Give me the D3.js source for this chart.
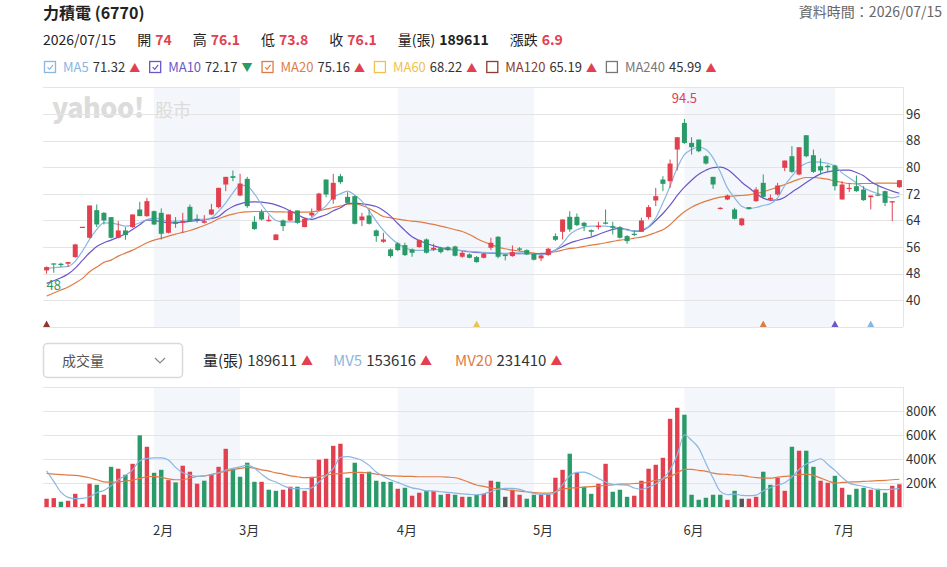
<!DOCTYPE html>
<html>
<head>
<meta charset="utf-8">
<script src="https://cdn.jsdelivr.net/npm/d3@7"></script>
<style>
body { margin: 0; background: #fff; }
text { font-family: "Noto Sans CJK TC", "Noto Sans", sans-serif; }
</style>
</head>
<body>
<svg id="chart" width="947" height="567"></svg>
<script>
// daily OHLC (120 trading days, mid Jan -> 2026/07/15)
var opens = [49.0,51.1,51.0,51.0,53.0,62.1,58.8,67.1,66.3,65.0,
	58.8,61.0,62.0,67.3,65.3,66.8,66.3,60.3,63.6,63.3,
	68.1,64.5,63.3,65.8,68.0,74.8,77.3,71.5,76.5,63.6,
	66.5,63.8,58.1,64.0,64.0,67.0,62.0,65.5,67.0,76.3,
	70.3,77.3,71.1,71.3,64.1,65.5,61.0,57.6,55.3,57.1,
	56.6,55.3,56.0,58.3,55.2,55.7,56.0,56.2,53.1,53.8,
	53.0,52.8,55.8,59.1,53.8,53.3,55.6,55.1,54.0,52.6,
	53.6,59.3,60.6,65.1,65.1,63.3,61.1,62.0,63.4,62.3,
	62.0,59.3,60.0,60.6,65.0,70.0,76.3,75.8,85.3,93.3,
	87.3,88.3,83.3,77.1,67.5,70.3,67.3,62.6,68.0,69.8,
	75.3,70.3,71.8,79.8,83.3,77.8,89.6,83.6,80.3,80.4,
	80.5,70.3,73.7,74.3,73.3,71.0,71.8,72.8,69.4,74.0];
var highs = [50.2,51.1,51.3,51.5,57.0,62.1,68.5,68.8,66.5,65.0,
	63.8,62.0,65.8,69.6,70.8,67.0,67.6,65.8,65.0,66.3,
	68.8,65.8,65.6,69.0,73.8,77.1,79.0,78.0,77.1,65.3,
	67.3,65.5,59.8,64.3,67.3,67.0,64.8,67.6,72.3,76.3,
	78.0,78.0,72.5,71.5,66.3,67.3,61.3,60.3,55.6,57.5,
	57.3,55.6,58.3,58.6,57.0,56.1,56.3,56.4,54.8,54.1,
	53.3,54.3,58.8,59.3,54.0,56.5,56.0,55.3,54.1,53.8,
	55.8,60.1,64.3,66.8,66.1,63.6,61.3,63.6,67.3,63.6,
	62.3,59.6,61.0,64.8,68.6,73.8,77.3,82.3,89.0,94.5,
	89.0,88.3,83.6,77.1,68.0,71.8,67.8,64.8,68.0,74.0,
	77.8,71.8,75.3,82.0,86.3,86.0,89.6,85.3,82.6,80.8,
	80.8,75.8,75.3,77.5,74.3,71.5,74.8,73.0,69.8,76.1];
var lows = [48.0,48.3,50.0,50.0,52.8,62.1,58.6,62.0,62.8,58.6,
	58.6,58.2,61.8,65.3,65.1,62.6,58.3,60.1,61.8,60.3,
	63.6,63.3,63.1,65.6,67.6,72.8,75.8,71.3,67.8,61.2,
	64.0,63.6,58.1,60.8,63.8,63.0,62.0,65.0,66.8,71.0,
	69.0,75.0,69.0,62.8,62.3,62.8,57.6,57.3,52.8,54.8,
	53.3,53.1,55.8,54.1,54.8,54.1,54.8,53.2,52.8,52.6,
	51.3,52.6,55.1,52.6,52.0,53.1,54.8,53.6,52.0,51.8,
	53.4,57.8,58.3,60.6,62.3,60.8,59.3,61.3,62.8,59.8,
	58.6,57.0,59.3,60.6,64.3,68.3,72.8,73.8,79.0,87.0,
	83.8,84.5,80.8,73.5,67.3,70.1,64.3,62.3,67.3,69.6,
	70.8,69.8,71.5,78.8,78.3,77.6,83.0,78.3,77.8,78.6,
	73.0,70.3,72.5,72.6,69.9,67.3,71.3,68.3,63.8,73.8];
var closes = [50.0,50.8,50.6,51.5,56.8,62.1,68.5,62.8,64.0,58.8,
	61.0,59.6,65.8,65.3,69.8,62.8,60.0,65.8,63.0,63.8,
	63.8,64.2,63.8,67.3,73.8,77.1,76.8,75.1,68.3,61.4,
	64.3,64.2,59.8,62.3,66.8,63.3,64.5,66.3,72.1,71.8,
	75.3,75.5,69.3,63.0,65.2,63.0,59.3,58.3,53.3,55.1,
	53.6,54.3,58.1,54.3,55.8,54.5,55.1,53.4,54.3,52.8,
	51.5,54.1,57.3,53.1,53.3,54.5,55.2,53.8,52.2,53.5,
	55.5,58.2,64.3,61.3,62.6,62.3,60.6,62.4,63.0,61.8,
	58.8,57.8,59.7,64.0,68.0,71.3,75.0,81.1,89.0,87.3,
	86.0,84.8,81.1,74.8,67.8,71.5,64.5,64.6,67.4,73.3,
	71.1,70.8,74.5,82.0,78.6,86.0,83.3,78.6,79.0,80.0,
	74.3,74.8,73.8,72.8,70.1,71.5,71.5,69.3,69.8,76.1];

// moving averages as drawn (price)
var ma5 = [49.6,49.8,50.0,50.2,51.8,54.8,58.3,61.3,63.3,63.2,
	62.8,62.3,62.6,63.3,64.3,64.8,64.3,63.8,63.8,64.0,
	64.2,64.3,64.3,64.8,66.8,69.3,72.3,74.6,74.3,72.0,
	68.8,66.0,64.0,63.6,63.6,63.6,63.8,64.8,66.8,68.4,
	71.0,72.0,72.8,71.6,69.8,67.0,63.8,61.0,58.8,57.0,
	55.8,55.1,55.0,55.0,55.2,55.3,55.3,55.1,54.9,54.7,
	54.6,54.4,54.3,54.3,54.1,54.3,54.3,54.2,53.9,53.8,
	53.9,55.1,57.1,59.8,61.2,62.0,62.3,62.3,62.3,62.0,
	61.6,61.1,60.8,61.2,62.2,64.8,69.3,74.3,79.8,83.8,
	85.3,86.0,85.3,82.8,78.6,73.8,70.8,68.3,67.6,67.9,
	68.5,69.0,70.8,74.5,77.3,79.8,81.2,81.6,81.5,81.2,
	80.3,78.3,76.8,75.3,73.8,72.8,72.1,71.4,70.8,71.32];
var ma10 = [45.1,45.9,46.8,47.9,49.7,52.0,54.3,56.2,57.3,58.1,
	59.0,60.0,61.3,62.7,64.2,64.0,63.6,63.3,63.3,63.5,
	63.7,64.0,64.2,64.6,65.2,66.9,68.2,69.0,69.5,69.6,
	69.5,69.2,68.7,67.9,66.8,65.8,64.7,64.3,65.0,65.7,
	66.9,67.8,69.1,69.2,69.0,68.7,68.2,67.0,65.3,63.1,
	61.0,59.1,58.0,57.1,56.4,55.8,55.5,55.2,54.9,54.6,
	54.4,54.3,54.2,54.1,54.0,54.0,54.0,54.0,54.0,54.1,
	54.2,55.1,56.2,57.2,57.9,58.5,59.0,59.8,60.6,61.3,
	61.6,61.3,60.8,60.9,62.0,64.0,66.1,68.6,71.5,74.0,
	76.1,77.9,79.1,79.9,80.0,79.3,77.6,75.5,73.8,72.1,
	70.7,70.1,70.2,71.0,72.5,73.9,75.4,76.8,78.0,78.6,
	79.0,79.1,79.1,78.4,77.4,75.7,74.5,73.6,72.8,72.17];
var ma20 = [41.3,42.2,43.1,44.0,45.2,46.6,48.6,50.0,51.4,52.1,
	53.3,54.2,55.1,56.2,57.3,58.1,58.6,59.3,59.9,60.4,
	61.0,61.7,62.5,63.4,64.5,65.3,65.9,66.4,66.6,66.7,
	66.7,66.7,66.6,66.6,66.5,66.5,66.5,66.6,66.9,67.4,
	67.9,68.3,68.9,69.0,68.5,67.6,66.4,65.2,64.8,64.4,
	64.1,63.8,63.6,63.2,62.8,62.3,61.8,61.2,60.7,59.8,
	58.6,57.6,56.8,56.0,55.5,55.1,54.8,54.5,54.2,54.0,
	54.2,54.6,55.1,55.6,55.8,56.2,56.6,56.9,57.3,57.7,
	58.1,58.3,58.7,59.0,59.6,60.4,61.2,62.7,64.8,66.6,
	68.0,69.0,69.8,70.5,71.0,71.2,71.4,71.5,71.7,72.1,
	72.6,73.3,74.0,74.8,75.6,76.4,76.9,76.9,76.7,76.4,
	75.8,75.4,75.1,75.0,75.1,75.1,75.2,75.2,75.2,75.16];

// volume in thousand shares (張), direction vs previous close: u / d / n
var vols = [69,74,44,52,110,27,194,185,102,335,
	319,269,360,597,502,285,310,224,205,344,
	294,194,219,269,335,485,319,252,369,210,
	210,144,135,144,169,169,135,252,394,402,
	510,527,244,369,277,294,219,210,210,152,
	160,94,119,135,135,102,110,102,85,85,
	102,110,219,210,85,144,102,69,102,102,
	110,244,310,444,285,169,110,194,360,127,
	144,85,94,219,319,352,410,735,827,769,
	102,60,77,102,102,60,135,69,69,85,
	294,185,244,135,502,469,469,335,219,202,
	260,160,102,152,160,144,152,119,177,189.611];
var volDir = ("uuduuuudud" + "udududdudu" + "uuduuudddd" + "udduuduuuu" +
	"uudduddddu" + "duudududud" + "duudnuuddu" + "uuududduud" +
	"dduuuuuuud" + "dddddudnuu" + "dduududduu" + "dudddudduu").split("");
var mv5 = [302,213,124,80,69,72,85,119,138,177,
	227,263,310,385,405,410,410,391,330,285,
	266,255,260,269,285,308,322,335,349,324,
	274,230,208,177,158,152,152,160,208,263,
	319,413,419,408,388,347,291,255,227,205,
	180,160,149,135,133,127,122,116,110,105,
	102,110,130,147,155,155,147,127,113,105,
	105,124,185,260,288,291,269,238,208,188,
	185,183,158,147,166,194,235,310,435,602,
	555,491,363,241,130,102,108,97,94,99,
	135,160,183,202,249,313,358,380,402,355,
	305,247,199,183,172,158,144,144,149,153.616];
var mv20 = [280,274,269,266,263,255,244,227,210,208,
	210,216,224,238,252,255,247,235,227,227,
	241,255,260,272,285,299,310,322,330,324,
	310,299,285,274,260,252,244,244,252,266,
	274,280,285,288,288,283,274,266,260,258,
	255,255,252,252,252,252,249,244,227,205,
	183,172,158,152,144,138,133,127,119,116,
	116,127,149,158,160,166,169,174,180,185,
	191,191,196,199,210,222,233,255,283,313,
	313,305,297,283,274,272,266,263,252,244,
	241,241,249,255,260,269,274,263,241,219,
	199,205,208,210,213,216,219,222,227,231.41];

// months: first trading day index of each month
var monthStart = [15, 27, 49, 68, 89, 110];
var monthLabel = ["2月", "3月", "4月", "5月", "6月", "7月"];
var shadeFrom = [15, 49, 89];
var shadeTo = [27, 68, 110];
var priceTicks = [40, 48, 56, 64, 72, 80, 88, 96];
var volTicks = [200, 400, 600, 800];
// MA cross markers under the price panel
var markIdx = [0, 60, 100, 110, 115];
var markSeries = ["MA120", "MA60", "MA20", "MA10", "MA5"];

// header texts
var maNames = ["MA5", "MA10", "MA20", "MA60", "MA120", "MA240"];
var maValues = ["71.32", "72.17", "75.16", "68.22", "65.19", "45.99"];
var maUp = [true, false, true, true, true, true];
var maChecked = [true, true, true, false, false, false];
var volLegend = [["量(張)", "189611"], ["MV5", "153616"], ["MV20", "231410"]];

var RED = "#e2404f", GREEN = "#2a9a69", GRAY = "#666";
var maColor = {MA5: "#8ab6e2", MA10: "#6b57c9", MA20: "#df7c45", MA60: "#efc14f", MA120: "#8a3b2b", MA240: "#777777"};

var svg = d3.select("#chart");
var left = 43, right = 903;

var xs = d3.scaleBand().domain(d3.range(closes.length)).range([left, right]);
var cx = function(i) { return xs(i) + xs.bandwidth() / 2; };
var ys = d3.scaleLinear().domain([32, 104]).range([327, 87.3]);
var yv = d3.scaleLinear().domain([0, 1000]).range([507, 387]);

// ---------- header ----------
function flow(g, x, y, items) {
	items.forEach(function(it) {
		var t = g.append("text").attr("x", x).attr("y", y)
			.attr("font-size", it.s || 14)
			.attr("font-weight", it.w || 400)
			.attr("fill", it.c || "#333")
			.text(it.t);
		x += t.node().getComputedTextLength() + (it.gap == null ? 4 : it.gap);
	});
	return x;
}

svg.append("text").attr("x", 43).attr("y", 19)
	.attr("font-size", 16).attr("font-weight", 700).attr("fill", "#222")
	.text("力積電 (6770)");
svg.append("text").attr("x", 942).attr("y", 17)
	.attr("text-anchor", "end").attr("font-size", 14).attr("fill", GRAY)
	.text("資料時間：2026/07/15");

var hdr = svg.append("g");
flow(hdr, 43, 45, [
	{t: "2026/07/15", gap: 21, c: "#222"},
	{t: "開", c: "#222"}, {t: "74", c: RED, w: 700, gap: 21},
	{t: "高", c: "#222"}, {t: "76.1", c: RED, w: 700, gap: 21},
	{t: "低", c: "#222"}, {t: "73.8", c: RED, w: 700, gap: 21},
	{t: "收", c: "#222"}, {t: "76.1", c: RED, w: 700, gap: 21},
	{t: "量(張)", c: "#222"}, {t: "189611", c: "#222", w: 700, gap: 21},
	{t: "漲跌", c: "#222"}, {t: "6.9", c: RED, w: 700}
]);

// MA legend with check boxes
var lx = 44;
maNames.forEach(function(name, i) {
	var col = maColor[name];
	svg.append("rect").attr("x", lx + 0.5).attr("y", 61.5).attr("width", 11).attr("height", 11)
		.attr("fill", "#fff").attr("stroke", col).attr("stroke-width", 1.3);
	if (maChecked[i]) {
		svg.append("path").attr("d", "M" + (lx + 3.5) + ",67.2 L" + (lx + 5.6) + ",69.3 L" + (lx + 9) + ",64.8")
			.attr("fill", "none").attr("stroke", col).attr("stroke-width", 1.2);
	}
	var nx = flow(svg, lx + 19, 72, [
		{t: name, c: col, s: 13},
		{t: maValues[i], c: "#333", s: 13},
		{t: maUp[i] ? "▲" : "▼", c: maUp[i] ? RED : GREEN, s: 11, gap: 9}
	]);
	lx = nx;
});

// ---------- month shading ----------
[[87.3, 327], [387, 507]].forEach(function(r) {
	shadeFrom.forEach(function(s, k) {
		svg.append("rect")
			.attr("x", cx(s)).attr("y", r[0])
			.attr("width", cx(shadeTo[k]) - cx(s)).attr("height", r[1] - r[0])
			.attr("fill", "#f3f6fa");
	});
});

// watermark
svg.append("text").attr("x", 52).attr("y", 118)
	.attr("font-size", 27).attr("font-weight", 900).attr("letter-spacing", -0.5)
	.attr("fill", "#dcdcdc")
	.text("yahoo!");
svg.append("text").attr("x", 155).attr("y", 117)
	.attr("font-size", 18).attr("fill", "#dcdcdc").text("股市");

// ---------- grids ----------
var grid = svg.append("g").attr("stroke", "#e4e4e4").attr("stroke-width", 1);
[32].concat(priceTicks).concat([104]).forEach(function(v) {
	var y = Math.round(ys(v)) + 0.5;
	grid.append("line").attr("x1", left).attr("x2", right).attr("y1", y).attr("y2", y);
});
[0].concat(volTicks).concat([1000]).forEach(function(v) {
	var y = Math.round(yv(v)) + 0.5;
	grid.append("line").attr("x1", left).attr("x2", right).attr("y1", y).attr("y2", y);
});
grid.append("line").attr("x1", right + 0.5).attr("x2", right + 0.5).attr("y1", ys(104)).attr("y2", ys(32));
grid.append("line").attr("x1", right + 0.5).attr("x2", right + 0.5).attr("y1", yv(1000)).attr("y2", yv(0));

// right axes
svg.append("g").attr("transform", "translate(" + right + ",0)")
	.call(d3.axisRight(ys).tickValues(priceTicks).tickSize(0).tickPadding(3))
	.call(function(g) { g.select(".domain").remove(); })
	.selectAll("text").attr("font-size", 13).attr("fill", "#333")
	.style("font-family", "'Noto Sans CJK TC', 'Noto Sans', sans-serif");
svg.append("g").attr("transform", "translate(" + right + ",0)")
	.call(d3.axisRight(yv).tickValues(volTicks).tickSize(0).tickPadding(3)
		.tickFormat(function(d) { return d + "K"; }))
	.call(function(g) { g.select(".domain").remove(); })
	.selectAll("text").attr("font-size", 13).attr("fill", "#333")
	.style("font-family", "'Noto Sans CJK TC', 'Noto Sans', sans-serif");

// ---------- MA lines ----------
function drawLine(vals, yscale, color) {
	svg.append("path")
		.datum(vals)
		.attr("fill", "none")
		.attr("stroke", color)
		.attr("stroke-width", 1.2)
		.attr("d", d3.line()
			.curve(d3.curveMonotoneX)
			.x(function(d, i) { return cx(i); })
			.y(function(d) { return yscale(d); }));
}
drawLine(ma20, ys, maColor.MA20);
drawLine(ma10, ys, maColor.MA10);
drawLine(ma5, ys, maColor.MA5);

// ---------- candles ----------
var candles = svg.append("g").selectAll("g").data(closes).enter().append("g");
candles.append("line")
	.attr("x1", function(d, i) { return cx(i); })
	.attr("x2", function(d, i) { return cx(i); })
	.attr("y1", function(d, i) { return ys(highs[i]); })
	.attr("y2", function(d, i) { return ys(lows[i]); })
	.attr("stroke", function(d, i) { return d >= opens[i] ? RED : GREEN; })
	.attr("stroke-width", 1);
candles.append("rect")
	.attr("x", function(d, i) { return cx(i) - 2.5; })
	.attr("width", 5)
	.attr("y", function(d, i) { return ys(Math.max(d, opens[i])); })
	.attr("height", function(d, i) { return Math.max(1.2, Math.abs(ys(d) - ys(opens[i]))); })
	.attr("fill", function(d, i) { return d >= opens[i] ? RED : GREEN; });

// max / min labels
var hiIdx = d3.maxIndex(highs), loIdx = d3.minIndex(lows);
svg.append("text").attr("x", cx(hiIdx)).attr("y", 103).attr("text-anchor", "middle")
	.attr("font-size", 13).attr("fill", RED).text(highs[hiIdx]);
svg.append("text").attr("x", cx(loIdx)).attr("y", 290)
	.attr("font-size", 13).attr("fill", GREEN).text(lows[loIdx]);

// cross markers
markIdx.forEach(function(i, k) {
	var x = cx(i);
	svg.append("path").attr("d", "M" + (x - 3.5) + ",327 L" + x + ",320.5 L" + (x + 3.5) + ",327 Z")
		.attr("fill", maColor[markSeries[k]]);
});

// ---------- volume panel ----------
var box = svg.append("g");
box.append("rect").attr("x", 43.5).attr("y", 343.5).attr("width", 139).attr("height", 34).attr("rx", 4)
	.attr("fill", "#fff").attr("stroke", "#d9d9d9").attr("stroke-width", 1.5);
box.append("text").attr("x", 62).attr("y", 366).attr("font-size", 14).attr("fill", "#555").text("成交量");
box.append("path").attr("d", "M155,358 L160,363 L165,358").attr("fill", "none").attr("stroke", "#888").attr("stroke-width", 1.2);

var volLegendX = [203, 333, 455];
var volLegendColor = ["#222", maColor.MA5, maColor.MA20];
volLegend.forEach(function(p, k) {
	flow(svg, volLegendX[k], 366, [
		{t: p[0], c: volLegendColor[k], s: 15},
		{t: p[1], c: "#333", s: 15},
		{t: "▲", c: RED, s: 12}
	]);
});

var volColor = {u: RED, d: GREEN, n: "#555"};
svg.append("g").selectAll("rect").data(vols).enter().append("rect")
	.attr("x", function(d, i) { return cx(i) - 2.2; })
	.attr("width", 4.4)
	.attr("y", function(d) { return yv(d); })
	.attr("height", function(d) { return yv(0) - yv(d); })
	.attr("fill", function(d, i) { return volColor[volDir[i]]; });

drawLine(mv20, yv, maColor.MA20);
drawLine(mv5, yv, maColor.MA5);

// month labels
monthStart.forEach(function(s, k) {
	svg.append("text").attr("x", cx(s) - 1).attr("y", 535)
		.attr("font-size", 13).attr("fill", "#333").text(monthLabel[k]);
});
</script>
</body>
</html>
